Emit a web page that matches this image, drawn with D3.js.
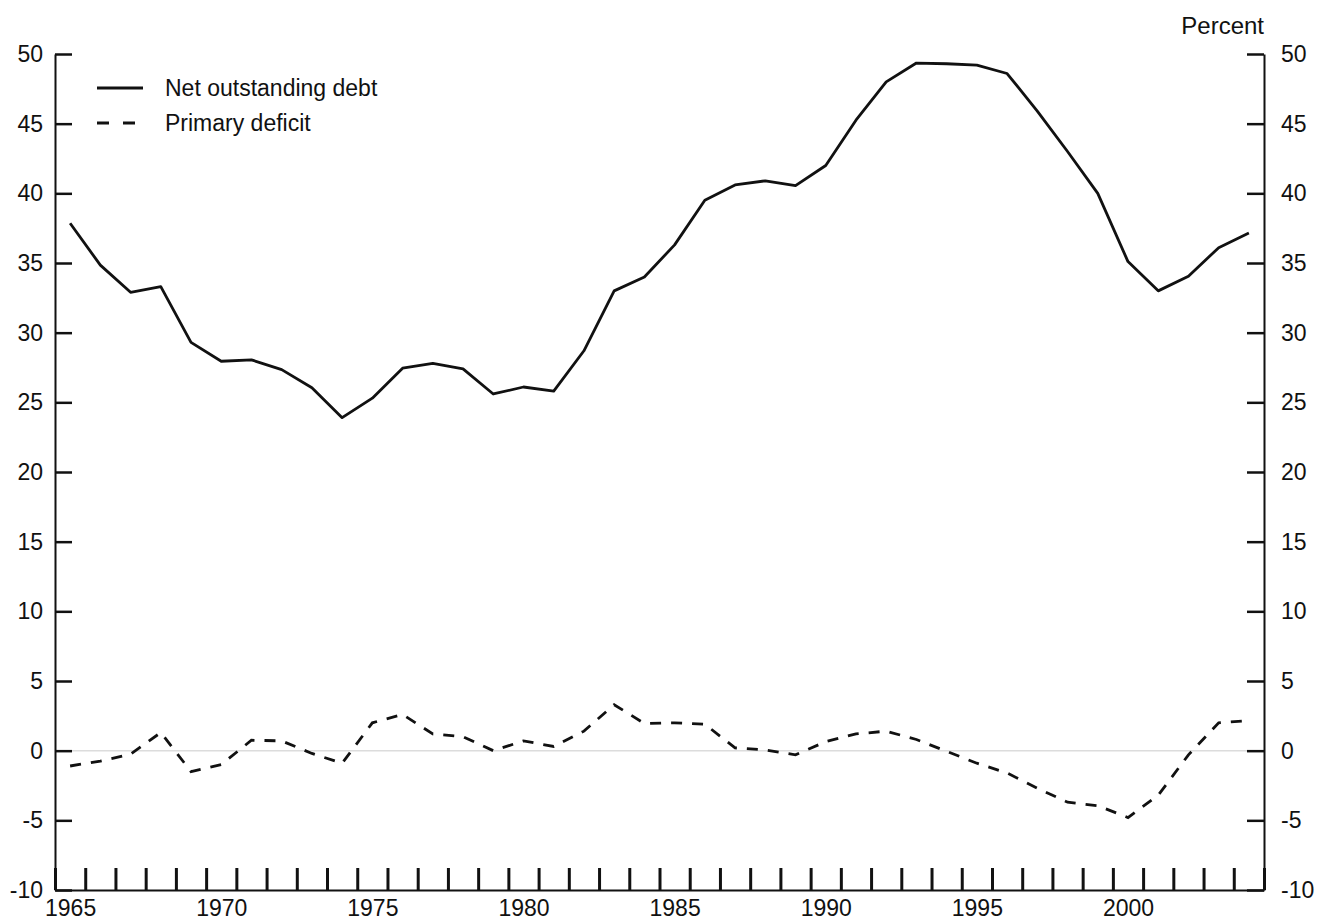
<!DOCTYPE html>
<html>
<head>
<meta charset="utf-8">
<script src="https://cdn.jsdelivr.net/npm/d3@7"></script>
<style>
  body { margin: 0; background: #fff; }
  text { font-family: "Liberation Sans", Arial, sans-serif; fill: #111; }
</style>
</head>
<body>
<div id="my_dataviz"></div>
<script>
// data (annual, percent)
var years = [1965, 1966, 1967, 1968, 1969, 1970, 1971, 1972, 1973, 1974,
             1975, 1976, 1977, 1978, 1979, 1980, 1981, 1982, 1983, 1984,
             1985, 1986, 1987, 1988, 1989, 1990, 1991, 1992, 1993, 1994,
             1995, 1996, 1997, 1998, 1999, 2000, 2001, 2002, 2003, 2004];

var netDebt = [37.85, 34.85, 32.9, 33.3, 29.3, 27.95, 28.05, 27.35, 26.05, 23.9,
               25.3, 27.45, 27.8, 27.4, 25.6, 26.1, 25.8, 28.7, 33.0, 34.0,
               36.3, 39.5, 40.6, 40.9, 40.55, 42.0, 45.25, 48.0, 49.35, 49.3,
               49.2, 48.6, 45.9, 43.0, 40.0, 35.1, 33.0, 34.05, 36.1, 37.15];

var primaryDeficit = [-1.1, -0.75, -0.25, 1.3, -1.5, -1.0, 0.75, 0.7, -0.2, -0.9,
                      2.0, 2.6, 1.2, 1.0, 0.0, 0.7, 0.3, 1.4, 3.3, 1.95,
                      2.0, 1.9, 0.2, 0.05, -0.3, 0.65, 1.2, 1.4, 0.8, -0.05,
                      -0.9, -1.6, -2.7, -3.7, -3.95, -4.8, -3.2, -0.3, 2.0, 2.15];

var yTicks = [-10, -5, 0, 5, 10, 15, 20, 25, 30, 35, 40, 45, 50];
var yearLabels = [1965, 1970, 1975, 1980, 1985, 1990, 1995, 2000];
var seriesNames = ["Net outstanding debt", "Primary deficit"];

// set the dimensions and margins of the graph
var margin = {top: 54, right: 58, bottom: 32, left: 55},
    width = 1322 - margin.left - margin.right,
    height = 922 - margin.top - margin.bottom;

var svg = d3.select("#my_dataviz")
  .append("svg")
    .attr("width", width + margin.left + margin.right)
    .attr("height", height + margin.top + margin.bottom)
  .append("g")
    .attr("transform", "translate(" + margin.left + "," + margin.top + ")");

var x = d3.scaleLinear()
  .domain([1965, 2005])
  .range([0, width]);

var y = d3.scaleLinear()
  .domain([-10, 50])
  .range([height, 0]);

// plain hyphen for negatives, like the original
var fmt = function(d) { return String(d); };

// zero line
svg.append("line")
  .attr("x1", 0).attr("x2", width)
  .attr("y1", y(0)).attr("y2", y(0))
  .style("stroke", "#dcdcdc")
  .style("stroke-width", 1.5);

// left axis
var yLeft = svg.append("g")
  .call(d3.axisLeft(y).tickValues(yTicks).tickSize(-17).tickSizeOuter(0).tickPadding(12).tickFormat(fmt));
// right axis
var yRight = svg.append("g")
  .attr("transform", "translate(" + width + ",0)")
  .call(d3.axisRight(y).tickValues(yTicks).tickSize(-17).tickSizeOuter(0).tickPadding(17).tickFormat(fmt));

// bottom axis: a tick at every year boundary
var xTicks = years.concat([2005]);
var xAxis = svg.append("g")
  .attr("transform", "translate(0," + height + ")")
  .call(d3.axisBottom(x).tickValues(xTicks).tickSize(-22).tickSizeOuter(0).tickFormat(""));
xAxis.selectAll(".tick line").style("stroke-width", 3);

// year labels sit in the middle of each year
var xLabels = svg.append("g")
  .attr("transform", "translate(0," + height + ")")
  .call(d3.axisBottom(x)
    .tickValues(yearLabels.map(function(d) { return d + 0.5; }))
    .tickSize(0).tickPadding(10)
    .tickFormat(function(d) { return Math.floor(d); }));
xLabels.select(".domain").remove();

[yLeft, yRight, xAxis, xLabels].forEach(function(g) {
  g.selectAll("text")
    .style("font-size", "23px")
    .style("font-family", "'Liberation Sans', Arial, sans-serif")
    .attr("fill", "#111");
  g.selectAll("line").attr("stroke", "#111");
  g.selectAll(".domain").attr("stroke", "#111").style("stroke-width", 2);
});
yLeft.selectAll(".tick line").style("stroke-width", 2.5);
yRight.selectAll(".tick line").style("stroke-width", 2.5);

// "Percent" unit label
svg.append("text")
  .attr("x", width)
  .attr("y", -20)
  .attr("text-anchor", "end")
  .style("font-size", "24px")
  .text("Percent");

// lines
var line = function(values) {
  return d3.line()
    .x(function(d, i) { return x(years[i] + 0.5); })
    .y(function(d) { return y(d); })(values);
};

svg.append("path")
  .attr("d", line(netDebt))
  .style("fill", "none")
  .style("stroke", "#111")
  .style("stroke-width", 2.8)
  .style("stroke-linejoin", "round");

svg.append("path")
  .attr("d", line(primaryDeficit))
  .style("fill", "none")
  .style("stroke", "#111")
  .style("stroke-width", 2.8)
  .style("stroke-dasharray", "11,10");

// legend
var legend = svg.append("g").attr("transform", "translate(42,34)");
seriesNames.forEach(function(name, i) {
  legend.append("line")
    .attr("x1", 0).attr("x2", 46)
    .attr("y1", i * 35).attr("y2", i * 35)
    .style("stroke", "#111")
    .style("stroke-width", 2.8)
    .style("stroke-dasharray", i === 1 ? "12,14" : null);
  legend.append("text")
    .attr("x", 68)
    .attr("y", i * 35)
    .attr("dy", "0.35em")
    .style("font-size", "23px")
    .text(name);
});
</script>
</body>
</html>
